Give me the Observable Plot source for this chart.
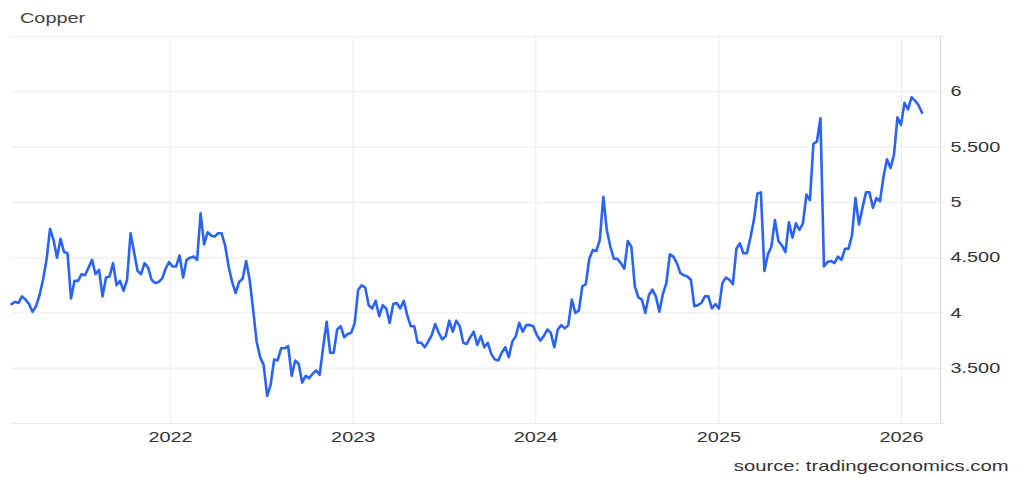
<!DOCTYPE html>
<html>
<head>
<meta charset="utf-8">
<script src="https://cdn.jsdelivr.net/npm/d3@7"></script>
<script src="https://cdn.jsdelivr.net/npm/@observablehq/plot@0.6"></script>
<style>
  html, body { margin: 0; padding: 0; background: #fff; }
  #wrap { position: relative; width: 1024px; height: 478px; overflow: hidden; background: #fff; }
  #wrap svg { position: absolute; left: 0; top: 0; }
  .title { position: absolute; left: 20px; top: 10.8px; font: 14.5px/14.5px "Liberation Sans", Arial, sans-serif; color: #444; transform: scaleX(1.37); transform-origin: left center; white-space: nowrap; }
  .source { position: absolute; right: 15px; top: 459px; font: 14.8px/14.8px "Liberation Sans", Arial, sans-serif; color: #333; transform: scaleX(1.37); transform-origin: right center; white-space: nowrap; }
</style>
</head>
<body>
<div id="wrap">
  <div class="title">Copper</div>
  <div class="source">source: tradingeconomics.com</div>
</div>
<script>
// Weekly copper prices (USD/lb)
const dates = [
  "2021-02-17","2021-02-24","2021-03-03","2021-03-10","2021-03-17","2021-03-24","2021-03-31","2021-04-07","2021-04-14","2021-04-21",
  "2021-04-28","2021-05-05","2021-05-12","2021-05-19","2021-05-26","2021-06-02","2021-06-09","2021-06-16","2021-06-23","2021-06-30",
  "2021-07-07","2021-07-14","2021-07-21","2021-07-28","2021-08-04","2021-08-11","2021-08-18","2021-08-25","2021-09-01","2021-09-08",
  "2021-09-15","2021-09-22","2021-09-29","2021-10-06","2021-10-13","2021-10-20","2021-10-27","2021-11-03","2021-11-10","2021-11-17",
  "2021-11-24","2021-12-01","2021-12-08","2021-12-15","2021-12-22","2021-12-29",
  "2022-01-05","2022-01-12","2022-01-19","2022-01-26","2022-02-02","2022-02-09","2022-02-16","2022-02-23","2022-03-02","2022-03-09",
  "2022-03-16","2022-03-23","2022-03-30","2022-04-06","2022-04-13","2022-04-20","2022-04-27","2022-05-04","2022-05-11","2022-05-18",
  "2022-05-25","2022-06-01","2022-06-08","2022-06-15","2022-06-22","2022-06-29","2022-07-06","2022-07-13","2022-07-20","2022-07-27",
  "2022-08-03","2022-08-10","2022-08-17","2022-08-24","2022-08-31","2022-09-07","2022-09-14","2022-09-21","2022-09-28","2022-10-05",
  "2022-10-12","2022-10-19","2022-10-26","2022-11-02","2022-11-09","2022-11-16","2022-11-23","2022-11-30","2022-12-07","2022-12-14",
  "2022-12-21","2022-12-28",
  "2023-01-04","2023-01-11","2023-01-18","2023-01-25","2023-02-01","2023-02-08","2023-02-15","2023-02-22","2023-03-01","2023-03-08",
  "2023-03-15","2023-03-22","2023-03-29","2023-04-05","2023-04-12","2023-04-19","2023-04-26","2023-05-03","2023-05-10","2023-05-17",
  "2023-05-24","2023-05-31","2023-06-07","2023-06-14","2023-06-21","2023-06-28","2023-07-05","2023-07-12","2023-07-19","2023-07-26",
  "2023-08-02","2023-08-09","2023-08-16","2023-08-23","2023-08-30","2023-09-06","2023-09-13","2023-09-20","2023-09-27","2023-10-04",
  "2023-10-11","2023-10-18","2023-10-25","2023-11-01","2023-11-08","2023-11-15","2023-11-22","2023-11-29","2023-12-06","2023-12-13",
  "2023-12-20","2023-12-27",
  "2024-01-03","2024-01-10","2024-01-17","2024-01-24","2024-01-31","2024-02-07","2024-02-14","2024-02-21","2024-02-28","2024-03-06",
  "2024-03-13","2024-03-20","2024-03-27","2024-04-03","2024-04-10","2024-04-17","2024-04-24","2024-05-01","2024-05-08","2024-05-15",
  "2024-05-22","2024-05-29","2024-06-05","2024-06-12","2024-06-19","2024-06-26","2024-07-03","2024-07-10","2024-07-17","2024-07-24",
  "2024-07-31","2024-08-07","2024-08-14","2024-08-21","2024-08-28","2024-09-04","2024-09-11","2024-09-18","2024-09-25","2024-10-02",
  "2024-10-09","2024-10-16","2024-10-23","2024-10-30","2024-11-06","2024-11-13","2024-11-20","2024-11-27","2024-12-04","2024-12-11",
  "2024-12-18","2024-12-25",
  "2025-01-01","2025-01-08","2025-01-15","2025-01-22","2025-01-29","2025-02-05","2025-02-12","2025-02-19","2025-02-26","2025-03-05",
  "2025-03-12","2025-03-19","2025-03-26","2025-04-02","2025-04-09","2025-04-16","2025-04-23","2025-04-30","2025-05-07","2025-05-14",
  "2025-05-21","2025-05-28","2025-06-04","2025-06-11","2025-06-18","2025-06-25","2025-07-02","2025-07-09","2025-07-16","2025-07-23",
  "2025-07-30","2025-08-06","2025-08-13","2025-08-20","2025-08-27","2025-09-03","2025-09-10","2025-09-17","2025-09-24","2025-10-01",
  "2025-10-08","2025-10-15","2025-10-22","2025-10-29","2025-11-05","2025-11-12","2025-11-19","2025-11-26","2025-12-03","2025-12-10",
  "2025-12-17","2025-12-24","2025-12-31",
  "2026-01-07","2026-01-14","2026-01-21","2026-01-28","2026-02-04","2026-02-11"
];
const prices = [
  4.08,4.10,4.09,4.15,4.12,4.08,4.01,4.06,4.16,4.30,
  4.48,4.76,4.66,4.50,4.67,4.55,4.54,4.13,4.29,4.29,
  4.35,4.34,4.41,4.48,4.35,4.39,4.15,4.32,4.33,4.45,
  4.25,4.29,4.20,4.30,4.72,4.55,4.38,4.35,4.45,4.41,
  4.30,4.27,4.28,4.31,4.40,4.46,
  4.42,4.42,4.52,4.32,4.48,4.50,4.51,4.48,4.90,4.62,
  4.73,4.70,4.69,4.72,4.72,4.61,4.42,4.28,4.18,4.28,
  4.31,4.47,4.30,4.03,3.74,3.60,3.53,3.25,3.35,3.58,
  3.57,3.68,3.68,3.70,3.43,3.57,3.54,3.37,3.43,3.41,
  3.45,3.48,3.44,3.69,3.92,3.64,3.64,3.85,3.88,3.78,
  3.81,3.82,
  3.91,4.21,4.25,4.23,4.07,4.04,4.11,3.97,4.07,4.04,
  3.91,4.08,4.09,4.04,4.11,3.98,3.88,3.88,3.73,3.73,
  3.69,3.74,3.80,3.90,3.82,3.76,3.79,3.93,3.83,3.93,
  3.88,3.73,3.72,3.78,3.83,3.71,3.79,3.69,3.73,3.63,
  3.58,3.57,3.64,3.69,3.60,3.74,3.79,3.91,3.83,3.89,
  3.89,3.88,
  3.80,3.75,3.79,3.85,3.82,3.69,3.85,3.89,3.86,3.89,
  4.12,4.00,4.02,4.24,4.26,4.49,4.57,4.56,4.66,5.05,
  4.75,4.60,4.49,4.49,4.45,4.40,4.65,4.60,4.24,4.14,
  4.12,4.00,4.16,4.21,4.15,4.01,4.17,4.27,4.53,4.51,
  4.45,4.36,4.34,4.33,4.30,4.06,4.07,4.09,4.15,4.15,
  4.04,4.08,
  4.04,4.27,4.32,4.30,4.26,4.58,4.63,4.54,4.54,4.68,
  4.84,5.08,5.09,4.38,4.53,4.60,4.84,4.65,4.61,4.55,
  4.82,4.68,4.81,4.75,4.81,5.07,5.02,5.53,5.55,5.76,
  4.42,4.46,4.47,4.45,4.51,4.48,4.58,4.58,4.70,5.04,
  4.80,4.95,5.09,5.09,4.95,5.04,5.01,5.23,5.39,5.31,
  5.43,5.77,5.70,
  5.90,5.84,5.95,5.92,5.88,5.81
];
const yTicks = [3.5, 4, 4.5, 5, 5.5, 6];
const yTickLabels = ["3.500", "4", "4.500", "5", "5.500", "6"];
const yGridValues = [3, 3.5, 4, 4.5, 5, 5.5, 6, 6.5];
const xTickYears = ["2022-01-01", "2023-01-01", "2024-01-01", "2025-01-01", "2026-01-01"];
const xTickLabels = ["2022", "2023", "2024", "2025", "2026"];
const xDomain = ["2021-02-17", "2026-03-20"];
const yDomain = [3, 6.5];

const data = dates.map((d, i) => ({date: new Date(d), value: prices[i]}));
const xStart = new Date(xDomain[0]);
const xEnd = new Date(xDomain[1]);
const gridEnd = new Date("2026-03-30");
const yearDates = xTickYears.map(d => new Date(d));
const gridRows = yGridValues.map(v => ({y: v, x1: xStart, x2: gridEnd}));

const FONT = '"Liberation Sans", Arial, sans-serif';

const chart = Plot.plot({
  width: 1024,
  height: 478,
  marginTop: 36,
  marginBottom: 55,
  marginLeft: 11,
  marginRight: 84,
  style: {background: "transparent", fontFamily: FONT, fontSize: "14.5px", color: "#333"},
  x: {
    type: "utc",
    domain: [xStart, xEnd],
    ticks: yearDates,
    tickFormat: d => xTickLabels[yearDates.findIndex(y => +y === +d)],
    tickSize: 0,
    tickPadding: 8,
    label: null
  },
  y: {
    domain: yDomain,
    axis: "right",
    ticks: yTicks,
    tickFormat: v => yTickLabels[yTicks.indexOf(v)],
    tickSize: 0,
    tickPadding: 10,
    label: null
  },
  marks: [
    Plot.ruleX(yearDates, {stroke: "#e6edf5", strokeOpacity: 1, strokeWidth: 1}),
    Plot.ruleY(gridRows, {y: "y", x1: "x1", x2: "x2", stroke: "#ebebeb", strokeOpacity: 1, strokeWidth: 1}),
    Plot.ruleX([xEnd], {stroke: "#e0e0e0", strokeOpacity: 1, strokeWidth: 1.2}),
    Plot.line(data, {x: "date", y: "value", stroke: "#2b63f6", strokeWidth: 2.6, strokeLinejoin: "round", strokeLinecap: "round"})
  ]
});

// Stretch text horizontally to match the reference's wide lettering
const S = 1.37;
chart.querySelectorAll("text").forEach(t => {
  t.style.fontFamily = FONT;
  t.style.fontSize = "14.5px";
  t.style.fill = "#333";
  const x = +(t.getAttribute("x") || 0);
  const tr = t.getAttribute("transform") || "";
  t.setAttribute("transform", `${tr} translate(${x},0) scale(${S},1) translate(${-x},0)`);
});
chart.querySelectorAll('[aria-label="x-axis tick"], [aria-label="y-axis tick"]').forEach(g => g.remove());

document.getElementById("wrap").appendChild(chart);
</script>
</body>
</html>
